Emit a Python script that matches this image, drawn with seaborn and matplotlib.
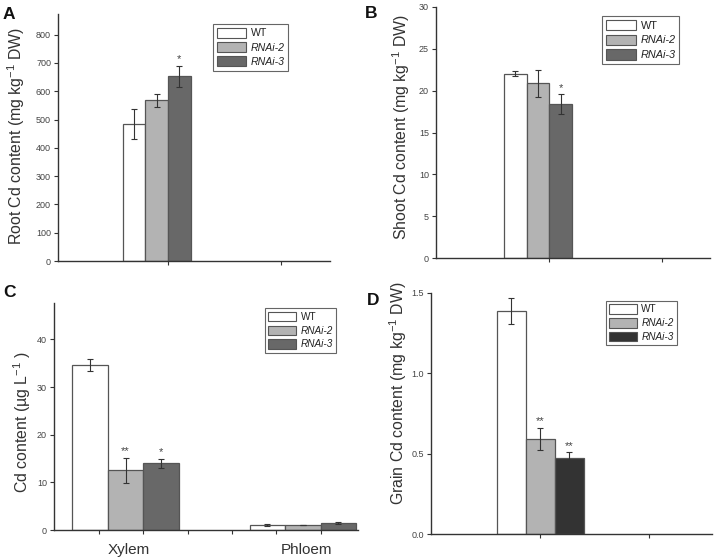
import numpy as np
import pandas as pd
import matplotlib
matplotlib.use("Agg")
import matplotlib.pyplot as plt
import seaborn as sns
from matplotlib.patches import Patch
from matplotlib.container import BarContainer

# ---------------- data ----------------
lines = ["WT", "RNAi-2", "RNAi-3"]

root_mean = [484, 568, 653]
root_err = [52, 24, 37]
root_sig = ["", "", "*"]

shoot_mean = [22.0, 20.9, 18.4]
shoot_err = [0.3, 1.6, 1.2]
shoot_sig = ["", "", "*"]

tissues = ["Xylem", "Phloem"]
xylem_mean = [34.6, 12.5, 14.0]
xylem_err = [1.3, 2.7, 1.0]
xylem_sig = ["", "**", "*"]
phloem_mean = [1.05, 1.0, 1.47]
phloem_err = [0.15, 0.05, 0.12]
phloem_sig = ["", "", ""]

grain_mean = [1.39, 0.59, 0.47]
grain_err = [0.08, 0.07, 0.04]
grain_sig = ["", "**", "**"]

pal_abc = {"WT": "#ffffff", "RNAi-2": "#b3b3b3", "RNAi-3": "#686868", "pad": "#ffffff"}
pal_d = {"WT": "#ffffff", "RNAi-2": "#b3b3b3", "RNAi-3": "#333333"}

# ---------------- style ----------------
sns.set_style("white")
plt.rcParams["font.family"] = ["Liberation Sans", "DejaVu Sans"]
plt.rcParams["mathtext.fontset"] = "custom"
plt.rcParams["mathtext.rm"] = "Liberation Sans"
plt.rcParams["mathtext.it"] = "Liberation Sans:italic"
plt.rcParams["mathtext.bf"] = "Liberation Sans:bold"
plt.rcParams["mathtext.default"] = "rm"
plt.rcParams["axes.edgecolor"] = "#333333"
plt.rcParams["axes.linewidth"] = 1.0

EDGE = "#555555"
TXT = "#333333"

fig = plt.figure(figsize=(7.17, 5.59), dpi=100)
W, H = 717.0, 559.0


def rect(l, r, t, b):
    return [l / W, 1 - b / H, (r - l) / W, (b - t) / H]


def make_df(cats, means, errs, sigs):
    rows = []
    for c, m, e, s in zip(cats, means, errs, sigs):
        for ln, mv, ev, sv in zip(lines, m, e, s):
            rows.append({"cat": c, "line": ln, "mean": mv, "err": ev, "sig": sv})
    return pd.DataFrame(rows)


def panel(ax, df, order, hue_order, pal, ylabel, ylim, yticks, yfmt,
          leg_anchor, leg_fs, label_xy):
    sns.barplot(data=df, x="cat", y="mean", hue="line", order=order,
                hue_order=hue_order, palette=pal, width=0.8, errorbar=None,
                edgecolor=EDGE, linewidth=0.9, saturation=1, legend=False,
                dodge=True, ax=ax)
    bars = [c for c in ax.containers if isinstance(c, BarContainer)]
    # error bars and significance from drawn bars
    for i, ln in enumerate(lines):
        pats = sorted(bars[i].patches, key=lambda p: p.get_x())
        for j, p in enumerate(pats):
            row = df[(df["cat"] == order[j]) & (df["line"] == ln)].iloc[0]
            x = p.get_x() + p.get_width() / 2
            h = p.get_height()
            ax.errorbar(x, h, yerr=row["err"], fmt="none", ecolor="#333333",
                        elinewidth=0.8, capsize=2.3, capthick=0.8)
            if row["sig"]:
                ax.annotate(row["sig"], (x, h + row["err"]), xytext=(0, 1.0),
                            textcoords="offset points", ha="center",
                            va="bottom", fontsize=8, color="#444444")
    ax.set_ylim(*ylim)
    ax.set_yticks(yticks)
    ax.set_yticklabels([yfmt.format(v) for v in yticks])
    ax.set_xlabel("")
    ax.set_ylabel(ylabel, fontsize=11.4, color=TXT)
    ax.yaxis.set_label_coords(*label_xy)
    for s in ["top", "right"]:
        ax.spines[s].set_visible(False)
    ax.tick_params(axis="both", which="major", direction="out", length=3,
                   width=0.8, color="#333333", labelsize=6.5,
                   labelcolor="#444444", pad=2)
    ax.tick_params(axis="x", which="minor", direction="out", length=2,
                   width=0.8, color="#333333")
    ax.tick_params(left=True, bottom=True)
    handles = [Patch(facecolor=pal[l], edgecolor=EDGE, linewidth=0.8, label=l)
               for l in lines]
    leg = ax.legend(handles=handles, loc="upper left", bbox_to_anchor=leg_anchor,
                    frameon=True, fancybox=False, edgecolor="#666666",
                    framealpha=1, fontsize=leg_fs, handlelength=2.8,
                    handleheight=1.1, labelspacing=0.35, borderpad=0.35,
                    handletextpad=0.4, borderaxespad=0)
    leg.get_frame().set_linewidth(0.8)
    for k, t in enumerate(leg.get_texts()):
        t.set_color("#222222")
        if k > 0:
            t.set_fontstyle("italic")
    return bars


SUP = "$^{\\mathregular{-1}}$"

# ---------------- A ----------------
axA = fig.add_axes(rect(58, 330, 14, 261))
dfA = make_df(["Root"], [root_mean], [root_err], [root_sig])
panel(axA, dfA, ["Root"], lines + ["pad"], pal_abc,
      "Root Cd content (mg kg" + SUP + " DW)", (0, 873), list(range(0, 801, 100)),
      "{:d}", (0.57, 0.96), 7.6, (-0.114, 0.506))
axA.set_xlim(-0.975, 1.435)
axA.set_xticks([0, 1])
axA.set_xticklabels([])

# ---------------- B ----------------
axB = fig.add_axes(rect(436, 710, 7, 258))
dfB = make_df(["Shoot"], [shoot_mean], [shoot_err], [shoot_sig])
panel(axB, dfB, ["Shoot"], lines + ["pad"], pal_abc,
      "Shoot Cd content (mg kg" + SUP + " DW)", (0, 30), list(range(0, 31, 5)),
      "{:d}", (0.606, 0.964), 7.8, (-0.088, 0.524))
axB.set_xlim(-1.0, 1.42)
axB.set_xticks([0, 1])
axB.set_xticks([-0.5, 0.5], minor=True)
axB.set_xticklabels([])

# ---------------- C ----------------
axC = fig.add_axes(rect(54, 358, 302.7, 530))
dfC = make_df(tissues, [xylem_mean, phloem_mean], [xylem_err, phloem_err],
              [xylem_sig, phloem_sig])
barsC = panel(axC, dfC, tissues, lines + ["pad"], pal_abc,
              "Cd content (\u00b5g L" + SUP + " )", (0, 47.7), [0, 10, 20, 30, 40],
              "{:d}", (0.694, 0.975), 7.2, (-0.069, 0.476))
axC.set_xlim(-0.503, 1.21)
# category labels centred under each group of drawn bars
centers = {c: [] for c in tissues}
for cont in barsC:
    for j, p in enumerate(sorted(cont.patches, key=lambda p: p.get_x())):
        centers[tissues[j]].append(p.get_x() + p.get_width() / 2)
for c in tissues:
    axC.text(np.mean(centers[c]) + 0.02, -0.055, c,
             transform=axC.get_xaxis_transform(),
             ha="center", va="top", fontsize=11, color=TXT)
axC.set_xticks([-0.25, 0, 0.25, 0.5, 0.75, 1.0])
axC.set_xticklabels([])

# ---------------- D ----------------
axD = fig.add_axes(rect(430.7, 711.7, 293, 534))
dfD = make_df(["Grain"], [grain_mean], [grain_err], [grain_sig])
panel(axD, dfD, ["Grain"], lines, pal_d,
      "Grain Cd content (mg kg" + SUP + " DW)", (0, 1.5), [0.0, 0.5, 1.0, 1.5],
      "{:.1f}", (0.623, 0.968), 7.2, (-0.077, 0.585))
axD.set_xlim(-1.01, 1.58)
axD.set_xticks([0, 1])
axD.set_xticks([-0.5, 0.5, 1.5], minor=True)
axD.set_xticklabels([])

# ---------------- panel letters ----------------
for letter, x, yb in [("A", 3, 19), ("B", 365, 18.3), ("C", 3, 296.7), ("D", 367, 305)]:
    fig.text(x / W, 1 - yb / H, letter, fontsize=12.5, fontweight="bold",
             ha="left", va="baseline", color="#111111")

fig.savefig("out.png", dpi=100)
